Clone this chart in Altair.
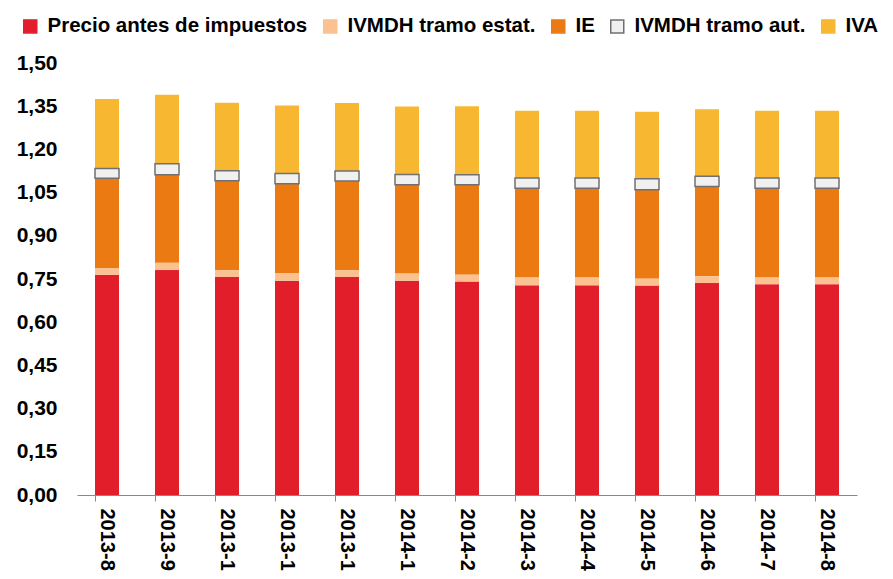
import altair as alt
import pandas as pd

meses = ["2013-8", "2013-9", "2013-10", "2013-11", "2013-12", "2014-1", "2014-2",
         "2014-3", "2014-4", "2014-5", "2014-6", "2014-7", "2014-8"]
precio = [0.765, 0.781, 0.757, 0.744, 0.757, 0.744, 0.741, 0.728, 0.728, 0.727, 0.736, 0.732, 0.732]
ivmdh_estat = [0.023, 0.025, 0.024, 0.027, 0.024, 0.026, 0.025, 0.028, 0.028, 0.025, 0.024, 0.024, 0.024]
ie = [0.312, 0.306, 0.310, 0.310, 0.309, 0.307, 0.311, 0.309, 0.309, 0.308, 0.311, 0.309, 0.309]
ivmdh_aut = [0.034, 0.038, 0.035, 0.035, 0.035, 0.036, 0.035, 0.036, 0.036, 0.038, 0.036, 0.036, 0.036]
iva = [0.241, 0.240, 0.236, 0.236, 0.236, 0.236, 0.238, 0.233, 0.233, 0.233, 0.232, 0.233, 0.233]

componentes = ["Precio antes de impuestos", "IVMDH tramo estat.", "IE", "IVMDH tramo aut.", "IVA"]
colores = ["#e31e2b", "#fbc190", "#ec7a13", "#f0f0f0", "#f7b731"]
bordes = ["#e31e2b", "#fbc190", "#ec7a13", "#707070", "#f7b731"]
y_ticks = [0, 0.15, 0.30, 0.45, 0.60, 0.75, 0.90, 1.05, 1.20, 1.35, 1.50]

series = [precio, ivmdh_estat, ie, ivmdh_aut, iva]
rows = []
# draw the outlined box last so its border is on top
for k in [0, 1, 2, 4, 3]:
    for m, v in zip(meses, series[k]):
        rows.append({"Mes": m, "Componente": componentes[k], "Valor": v, "orden": k})
df = pd.DataFrame(rows)

FONT = "Liberation Sans"

legend_kw = dict(
    orient="none", legendX=-57, legendY=-47, direction="horizontal", title=None,
    symbolType="square", symbolSize=169, symbolStrokeWidth=1.5,
    labelFontSize=20.5, labelFontWeight="bold", labelColor="black", labelFont=FONT,
    labelLimit=0, columnPadding=12, labelOffset=7,
)

chart = alt.Chart(df).mark_bar().encode(
    x=alt.X("Mes:N", sort=meses,
            scale=alt.Scale(paddingInner=0.6, paddingOuter=0.3),
            axis=alt.Axis(title=None, labelAngle=90, labelFontSize=20, labelFontWeight="bold",
                          labelColor="black", labelFont=FONT, domainColor="#888888",
                          tickColor="#888888", tickSize=6, bandPosition=0, labelPadding=7,
                          labelLimit=0)),
    y=alt.Y("Valor:Q", stack="zero",
            scale=alt.Scale(domain=[0, 1.5], nice=False),
            axis=alt.Axis(title=None, values=y_ticks, grid=False, domain=False, ticks=False,
                          labelExpr="replace(format(datum.value, '.2f'), '.', ',')",
                          labelPadding=20, labelFontSize=21, labelFontWeight="bold",
                          labelColor="black", labelFont=FONT)),
    fill=alt.Fill("Componente:N", scale=alt.Scale(domain=componentes, range=colores),
                  legend=alt.Legend(**legend_kw)),
    stroke=alt.Stroke("Componente:N", scale=alt.Scale(domain=componentes, range=bordes),
                      legend=alt.Legend(**legend_kw)),
    strokeWidth=alt.condition(alt.datum.Componente == "IVMDH tramo aut.", alt.value(1.5), alt.value(0)),
    order=alt.Order("orden:Q"),
).properties(
    width=780, height=432,
    autosize=alt.AutoSizeParams(type="none"),
    padding={"left": 69, "top": 55, "right": 28, "bottom": 76},
).configure(font=FONT).configure_view(stroke=None)

chart.save("out.html", embed_options={"renderer": "svg", "actions": False})
